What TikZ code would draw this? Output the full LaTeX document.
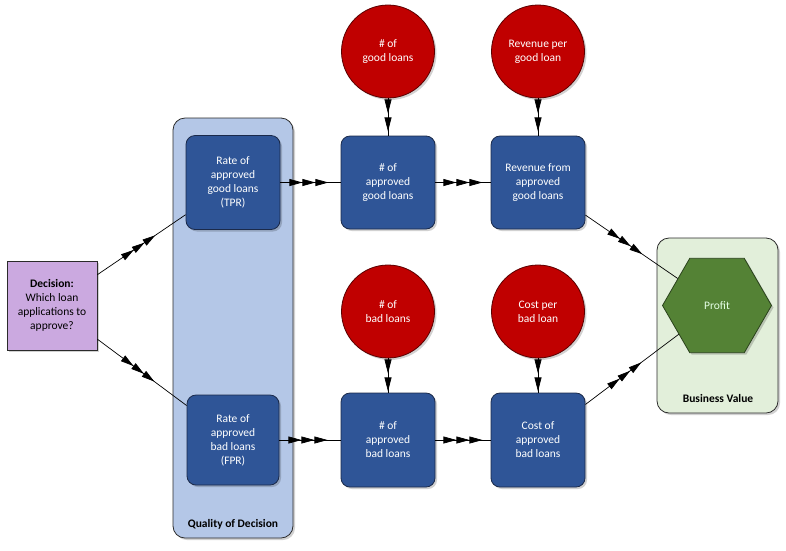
\documentclass[tikz,border=0pt]{standalone}
\usepackage{fontspec}
\setmainfont{Carlito}
\usetikzlibrary{arrows.meta,decorations.markings,shapes.geometric,shadows}
\definecolor{boxblue}{HTML}{2F5597}
\definecolor{boxedge}{HTML}{1B2A4A}
\definecolor{panelblue}{HTML}{B4C7E7}
\definecolor{paneledge}{HTML}{2B2B2B}
\definecolor{redfill}{HTML}{C00000}
\definecolor{rededge}{HTML}{5A0000}
\definecolor{purplefill}{HTML}{CBA9E0}
\definecolor{greenpanel}{HTML}{E2EFDA}
\definecolor{hexgreen}{HTML}{548235}
\definecolor{hexedge}{HTML}{2A421C}
\tikzset{
  base/.style={font=\fontsize{11.5}{14}\selectfont, align=center, inner sep=0pt, line width=0.8pt},
  softshadow/.style={drop shadow={shadow xshift=2pt, shadow yshift=-2pt, opacity=0.18, fill=black}},
  bluebox/.style={base, draw=boxedge, fill=boxblue, text=white, rounded corners=9pt,
    minimum width=94pt, minimum height=94pt, softshadow},
  redcirc/.style={base, circle, draw=rededge, fill=redfill, text=white, minimum size=93pt, softshadow},
  panelbox/.style={draw=paneledge, rounded corners=12pt, line width=0.8pt, inner sep=0pt},
  paneltitle/.style={base, font=\fontsize{11.5}{14}\selectfont\bfseries, text=black},
  conn/.style={line width=0.7pt, draw=black},
  headsthree/.style n args={3}{conn, postaction={decorate}, decoration={markings,
    mark=at position #1 with {\arrow{Triangle[length=13pt,width=7pt]}},
    mark=at position #2 with {\arrow{Triangle[length=13pt,width=7pt]}},
    mark=at position #3 with {\arrow{Triangle[length=13pt,width=7pt]}}}},
  headstwo/.style 2 args={conn, postaction={decorate}, decoration={markings,
    mark=at position #1 with {\arrow{Triangle[length=14pt,width=7pt]}},
    mark=at position #2 with {\arrow{Triangle[length=14pt,width=7pt]}}}}
}
\begin{document}
\begin{tikzpicture}[x=1pt,y=-1pt]
\useasboundingbox (0,0) rectangle (786,550);
% panels
\node[panelbox, fill=panelblue, minimum width=120pt, minimum height=420pt, softshadow] (qpanel) at (233,328) {};
\node[panelbox, fill=greenpanel, minimum width=121pt, minimum height=175pt, softshadow] (bpanel) at (717.5,325.5) {};
\node[paneltitle] (qtitle) at (233,524) {Quality of Decision};
\node[paneltitle] (btitle) at (718,398) {Business Value};
% decision
\node[base, draw=paneledge, fill=purplefill, minimum width=90pt, minimum height=89pt, softshadow] (dec) at (52,305.5)
  {\textbf{Decision:}\\Which loan\\applications to\\approve?};
% quality boxes
\node[bluebox] (tpr) at (233,182.5) {Rate of\\approved\\good loans\\(TPR)};
\node[bluebox, minimum width=92pt, minimum height=90pt] (fpr) at (233,440) {Rate of\\approved\\bad loans\\(FPR)};
% middle boxes
\node[bluebox, minimum height=93pt] (ngood) at (388,182.5) {\# of\\approved\\good loans};
\node[bluebox, minimum height=93pt] (rgood) at (538,182.5) {Revenue from\\approved\\good loans};
\node[bluebox] (nbad) at (388,440) {\# of\\approved\\bad loans};
\node[bluebox] (cbad) at (538,440) {Cost of\\approved\\bad loans};
% circles
\node[redcirc] (cgood) at (388,51.5) {\# of\\good loans};
\node[redcirc] (crev) at (538,51.5) {Revenue per\\good loan};
\node[redcirc] (cbadn) at (388,311.5) {\# of\\bad loans};
\node[redcirc] (ccost) at (538,311.5) {Cost per\\bad loan};
% profit
\node[base, regular polygon, regular polygon sides=6, draw=hexedge, fill=hexgreen, text=white!90!green,
  minimum size=109pt, softshadow] (profit) at (717,305.5) {Profit};
% connectors
\path[headsthree={44pt}{57pt}{70pt}] (dec) -- (tpr);
\path[headsthree={45pt}{58pt}{71pt}] (dec) -- (fpr);
\path[headsthree={22pt}{35pt}{48pt}] (tpr) -- (ngood);
\path[headsthree={21pt}{34pt}{47pt}] (ngood) -- (rgood);
\path[headsthree={22pt}{35pt}{48pt}] (fpr) -- (nbad);
\path[headsthree={21pt}{34pt}{47pt}] (nbad) -- (cbad);
\path[headsthree={42pt}{55pt}{69pt}] (rgood) -- (profit);
\path[headsthree={43pt}{56pt}{70pt}] (cbad) -- (profit);
\path[headstwo={15pt}{33pt}] (cgood) -- (ngood);
\path[headstwo={15pt}{33pt}] (crev) -- (rgood);
\path[headstwo={15pt}{33pt}] (cbadn) -- (nbad);
\path[headstwo={15pt}{33pt}] (ccost) -- (cbad);
\end{tikzpicture}
\end{document}
